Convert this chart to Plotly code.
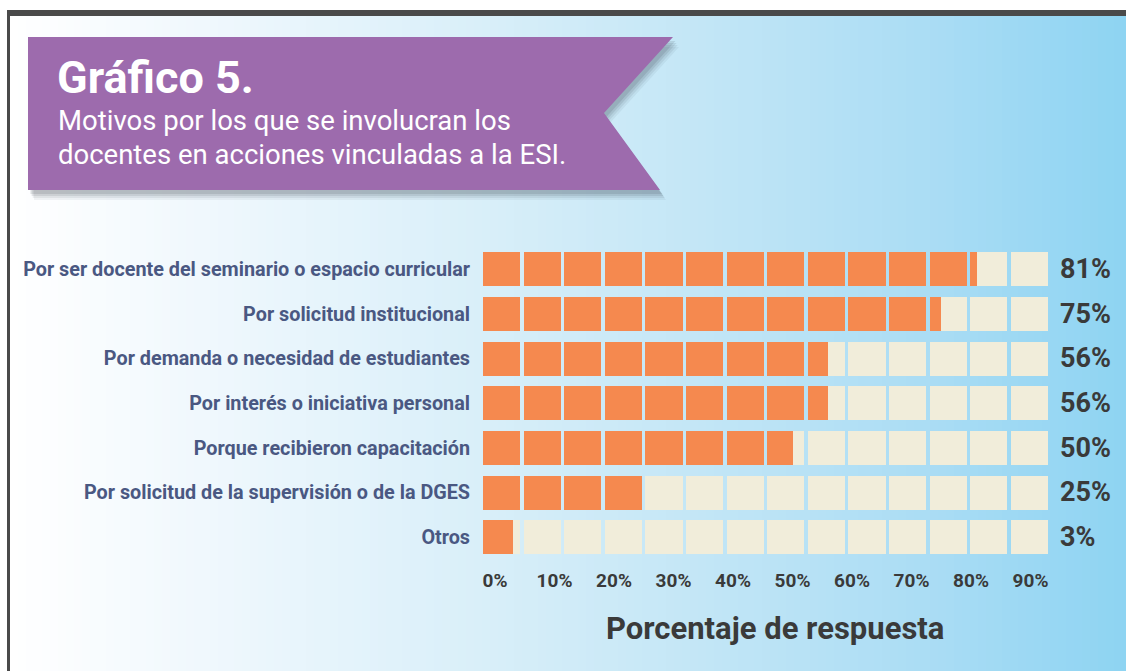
import plotly.graph_objects as go

# ---------------- data ----------------
categories = [
    "Por ser docente del seminario o espacio curricular",
    "Por solicitud institucional",
    "Por demanda o necesidad de estudiantes",
    "Por interés o iniciativa personal",
    "Porque recibieron capacitación",
    "Por solicitud de la supervisión o de la DGES",
    "Otros",
]
values = [81, 75, 56, 56, 50, 25, 3]
tick_values = [0, 10, 20, 30, 40, 50, 60, 70, 80, 90]
title_text = "Gráfico 5."
subtitle_lines = ["Motivos por los que se involucran los",
                  "docentes en acciones vinculadas a la ESI."]
axis_title = "Porcentaje de respuesta"

# ---------------- geometry helpers ----------------
W, H = 1126, 671
def px(x):
    return x / W
def py(y):
    return 1 - y / H

ORANGE = "#F5894F"
CREAM = "#F1EDDA"
LABEL = "#4A5882"
DARK = "#3A3A3A"
PURPLE = "#9D6BAD"

# x scale: 0% at pixel 495, 5.95 px per percent
ZERO_PX = 495.0
PPU = 5.95
def u(pixel):
    return (pixel - ZERO_PX) / PPU

# segmented track settings (in axis units, %)
n_seg = 14
seg_start = u(483)
seg_step = 40.6 / PPU
seg_w = 37.2 / PPU

# build segment pieces from values
o_y, o_x, o_b = [], [], []
c_y, c_x, c_b = [], [], []
for cat, v in zip(categories, values):
    for k in range(n_seg):
        s = seg_start + k * seg_step
        e = s + seg_w
        if v > s:
            o_y.append(cat); o_b.append(s); o_x.append(min(e, v) - s)
        if v < e:
            b = max(s, v)
            c_y.append(cat); c_b.append(b); c_x.append(e - b)

fig = go.Figure()
fig.add_trace(go.Bar(y=c_y, x=c_x, base=c_b, orientation="h", marker=dict(color=CREAM, line=dict(width=0)),
                     width=0.76, hoverinfo="skip", showlegend=False))
fig.add_trace(go.Bar(y=o_y, x=o_x, base=o_b, orientation="h", marker=dict(color=ORANGE, line=dict(width=0)),
                     width=0.76, hoverinfo="skip", showlegend=False))

shapes = []
# background gradient (white -> light blue)
stops = [(10, (255, 255, 255)), (200, (240, 248, 253)), (480, (217, 239, 249)),
         (700, (195, 230, 246)), (940, (169, 220, 244)), (1126, (142, 212, 242))]
def col_at(x):
    for (x0, c0), (x1, c1) in zip(stops[:-1], stops[1:]):
        if x0 <= x <= x1:
            t = (x - x0) / (x1 - x0)
            return "rgb(%d,%d,%d)" % tuple(round(a + (b - a) * t) for a, b in zip(c0, c1))
    return "rgb(%d,%d,%d)" % stops[-1][1]
step = 8
x = 10
while x < W:
    x2 = min(x + step, W)
    shapes.append(dict(type="rect", xref="paper", yref="paper", x0=px(x), x1=px(x2) + 0.0005,
                       y0=0, y1=py(16), fillcolor=col_at((x + x2) / 2), line=dict(width=0), layer="below"))
    x = x2
# frame lines
shapes.append(dict(type="rect", xref="paper", yref="paper", x0=px(7), x1=1, y0=py(16), y1=py(10),
                   fillcolor="#4a4a4a", line=dict(width=0), layer="below"))
shapes.append(dict(type="rect", xref="paper", yref="paper", x0=px(7), x1=px(10), y0=0, y1=py(10),
                   fillcolor="#4a4a4a", line=dict(width=0), layer="below"))

# banner with soft shadow
banner = [(28, 37), (673, 37), (604, 113), (660, 190), (28, 190)]
def path_of(pts, dx=0, dy=0):
    return "M " + " L ".join("%.5f,%.5f" % (px(a + dx), py(b + dy)) for a, b in pts) + " Z"
for d, op in [(10, 0.06), (8, 0.08), (6, 0.1), (4, 0.12)]:
    shapes.append(dict(type="path", xref="paper", yref="paper", path=path_of(banner, d * 0.6, d),
                       fillcolor="rgba(40,50,60,%.2f)" % op, line=dict(width=0), layer="below"))
shapes.append(dict(type="path", xref="paper", yref="paper", path=path_of(banner),
                   fillcolor=PURPLE, line=dict(width=0), layer="below"))

annotations = [
    dict(text="<b>" + title_text + "</b>", xref="paper", yref="paper", x=px(55), y=py(77),
         xanchor="left", yanchor="middle", showarrow=False,
         font=dict(family="Roboto", size=45, color="white")),
    dict(text=subtitle_lines[0], xref="paper", yref="paper", x=px(56), y=py(120),
         xanchor="left", yanchor="middle", showarrow=False,
         font=dict(family="Roboto", size=27.5, color="white")),
    dict(text=subtitle_lines[1], xref="paper", yref="paper", x=px(56), y=py(154),
         xanchor="left", yanchor="middle", showarrow=False,
         font=dict(family="Roboto", size=27.5, color="white")),
    dict(text="<b>" + axis_title + "</b>", xref="paper", yref="paper", x=px(775), y=py(628),
         xanchor="center", yanchor="middle", showarrow=False,
         font=dict(family="Roboto", size=31, color=DARK)),
]
for cat, v in zip(categories, values):
    annotations.append(dict(text="<b>%d%%</b>" % v, xref="paper", yref="y", x=px(1058), y=cat,
                            xanchor="left", yanchor="middle", showarrow=False,
                            font=dict(family="Roboto", size=27, color=DARK)))

y_top, y_bot = 246.7, 559.3
fig.update_layout(
    width=W, height=H, margin=dict(l=0, r=0, t=0, b=0),
    paper_bgcolor="white", plot_bgcolor="rgba(0,0,0,0)",
    barmode="overlay", bargap=0,
    shapes=shapes, annotations=annotations,
    xaxis=dict(domain=[px(483), px(1048)], range=[u(483), u(1048)],
               tickvals=tick_values, ticktext=["<b>%d%%</b>" % t for t in tick_values],
               showgrid=False, zeroline=False, showline=False,
               ticks="outside", ticklen=4, tickcolor="rgba(0,0,0,0)",
               tickfont=dict(family="Roboto", size=19, color=DARK), fixedrange=True),
    yaxis=dict(domain=[py(y_bot), py(y_top)], type="category", categoryorder="array",
               categoryarray=categories, range=[6.5, -0.5],
               tickvals=categories, ticktext=["<b>%s</b>" % c for c in categories],
               showgrid=False, zeroline=False, showline=False,
               ticks="outside", ticklen=8, tickcolor="rgba(0,0,0,0)",
               tickfont=dict(family="Roboto", size=19.8, color=LABEL), fixedrange=True),
    font=dict(family="Roboto"),
)

fig.write_html("out.html", config={"displayModeBar": False},
               post_script="document.body.style.margin='0';document.body.style.overflow='hidden';")
